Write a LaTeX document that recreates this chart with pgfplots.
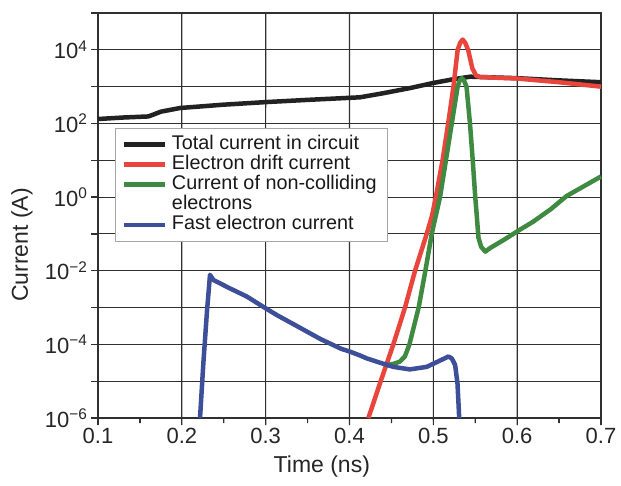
\documentclass[border=0pt]{standalone}
\usepackage{fontspec}
\setmainfont{Liberation Sans}
\usepackage{pgfplots}
\pgfplotsset{compat=1.18}
\definecolor{cblack}{HTML}{222222}
\definecolor{cred}{HTML}{E8453C}
\definecolor{cgreen}{HTML}{3E8A40}
\definecolor{cblue}{HTML}{3D4F98}
\definecolor{cgrid}{HTML}{303030}
\newcommand\tl[1]{10\textsuperscript{#1}}
\begin{document}
\begin{tikzpicture}
\path[use as bounding box] (-98pt,-67pt) rectangle (523pt,418pt);
\begin{axis}[
  at={(0pt,0pt)}, anchor=south west,
  scale only axis, width=503pt, height=405pt,
  clip=false,
  xmin=0.1, xmax=0.7, ymode=log, ymin=1e-6, ymax=1e5,
  xtick={0.1,0.2,0.3,0.4,0.5,0.6,0.7},
  xticklabels={0.1,0.2,0.3,0.4,0.5,0.6,0.7},
  minor x tick num=1,
  ytick={1e-6,1e-5,1e-4,1e-3,1e-2,1e-1,1,10,100,1000,1e4,1e5},
  yticklabels={\tl{−6},{},\tl{−4},{},\tl{−2},{},\tl{0},{},\tl{2},{},\tl{4},{}},
  yminorticks=false,
  tick align=outside, xtick pos=bottom, ytick pos=left,
  major tick length=7pt, minor tick length=5pt,
  grid=major,
  grid style={draw=cgrid, line width=1.1pt},
  axis line style={line width=1.2pt, draw=cgrid},
  xtick style={line width=1.2pt, draw=cgrid},
  ytick style={line width=1.2pt, draw=cgrid},
  ticklabel style={font=\fontsize{22}{22}\selectfont, text=black!85},
  xlabel={Time (ns)}, ylabel={Current (A)},
  label style={font=\fontsize{23}{23}\selectfont, text=black!85},
  xlabel style={at={(axis description cs:0.445,-0.121)}, anchor=center},
  ylabel style={at={(axis description cs:-0.151,0.427)}, anchor=center},
  legend style={at={(axis description cs:0.034,0.716)}, anchor=north west,
    draw=black!35, line width=0.8pt, fill=white,
    font=\fontsize{19.8}{20}\selectfont, text=black!90,
    inner xsep=6pt, inner ysep=6pt, row sep=0pt,
    nodes={inner xsep=5pt, inner ysep=0.8pt, text height=14pt, text depth=4.5pt}},
  legend cell align=left,
  legend image code/.code={\draw[#1] (0pt,0pt) -- (41pt,0pt);},
  every axis plot/.append style={line width=4.5pt, line join=round, line cap=butt},
]
% vertical grid lines and x ticks as thin series
\addplot[cgrid, line width=1.1pt, forget plot] coordinates {(0.2,1e-6) (0.20005,1e5)};
\addplot[cgrid, line width=1.1pt, forget plot] coordinates {(0.3,1e-6) (0.30005,1e5)};
\addplot[cgrid, line width=1.1pt, forget plot] coordinates {(0.4,1e-6) (0.40005,1e5)};
\addplot[cgrid, line width=1.1pt, forget plot] coordinates {(0.5,1e-6) (0.50005,1e5)};
\addplot[cgrid, line width=1.1pt, forget plot] coordinates {(0.6,1e-6) (0.60005,1e5)};
\addplot[cgrid, line width=1.2pt, forget plot] coordinates {(0.1,1e-6) (0.10005,6.45e-7)};
\addplot[cgrid, line width=1.2pt, forget plot] coordinates {(0.2,1e-6) (0.20005,6.45e-7)};
\addplot[cgrid, line width=1.2pt, forget plot] coordinates {(0.3,1e-6) (0.30005,6.45e-7)};
\addplot[cgrid, line width=1.2pt, forget plot] coordinates {(0.4,1e-6) (0.40005,6.45e-7)};
\addplot[cgrid, line width=1.2pt, forget plot] coordinates {(0.5,1e-6) (0.50005,6.45e-7)};
\addplot[cgrid, line width=1.2pt, forget plot] coordinates {(0.6,1e-6) (0.60005,6.45e-7)};
\addplot[cgrid, line width=1.2pt, forget plot] coordinates {(0.7,1e-6) (0.69995,6.45e-7)};
\addplot[cgrid, line width=1.2pt, forget plot] coordinates {(0.15,1e-6) (0.15005,7.31e-7)};
\addplot[cgrid, line width=1.2pt, forget plot] coordinates {(0.25,1e-6) (0.25005,7.31e-7)};
\addplot[cgrid, line width=1.2pt, forget plot] coordinates {(0.35,1e-6) (0.35005,7.31e-7)};
\addplot[cgrid, line width=1.2pt, forget plot] coordinates {(0.45,1e-6) (0.45005,7.31e-7)};
\addplot[cgrid, line width=1.2pt, forget plot] coordinates {(0.55,1e-6) (0.55005,7.31e-7)};
\addplot[cgrid, line width=1.2pt, forget plot] coordinates {(0.65,1e-6) (0.65005,7.31e-7)};
\addplot[cblack] coordinates {
(0.100,132) (0.130,145) (0.160,155) (0.166,174) (0.175,209) (0.198,263)
(0.250,324) (0.300,380) (0.350,437) (0.4125,513) (0.440,661) (0.472,912)
(0.500,1259) (0.5235,1585) (0.544,1862) (0.600,1698) (0.650,1479) (0.700,1318)};
\addplot[cred] coordinates {
(0.4225,1.0e-6) (0.4372,1e-5) (0.4523,1e-4) (0.4662,1e-3)
(0.4782,1e-2) (0.4921,0.1) (0.4985,0.316) (0.503,1) (0.511,10) (0.5177,100)
(0.524,1000) (0.529,1e4) (0.532,1.55e4) (0.535,1.9e4) (0.538,1.55e4)
(0.5415,1e4) (0.5465,3162) (0.551,1995) (0.556,1820) (0.600,1660)
(0.650,1318) (0.700,1000)};
\addplot[cgreen] coordinates {
(0.445,2.75e-5) (0.4523,2.95e-5) (0.460,3.39e-5) (0.466,4.68e-5) (0.4715,1e-4)
(0.4825,1e-3) (0.4905,1e-2) (0.4981,0.1) (0.503,0.316) (0.508,1) (0.515,10)
(0.522,100) (0.529,1000) (0.5315,1479) (0.534,1698) (0.5365,1479)
(0.5396,1000) (0.5437,100) (0.547,10) (0.550,1) (0.5518,0.316)
(0.5538,0.0794) (0.557,0.0447) (0.562,0.0331) (0.568,0.0417) (0.585,0.0708)
(0.603,0.129) (0.619,0.214) (0.640,0.468) (0.659,1.07) (0.680,2.0) (0.700,3.63)};
\addlegendimage{empty legend}
\addplot[cblue] coordinates {
(0.2217,1e-6) (0.2257,3.16e-5) (0.2300,7.94e-4) (0.2336,7.76e-3)
(0.2376,5.62e-3) (0.2574,3.31e-3) (0.2774,2.0e-3) (0.297,1.05e-3)
(0.313,6.31e-4) (0.333,3.55e-4) (0.365,1.41e-4) (0.390,7.59e-5)
(0.401,6.3e-5) (0.4125,5.0e-5) (0.4205,4.17e-5) (0.4324,3.39e-5)
(0.4523,2.45e-5) (0.472,2.09e-5) (0.4921,2.45e-5) (0.508,3.63e-5)
(0.518,4.68e-5) (0.522,4.17e-5) (0.526,2.75e-5) (0.5288,8.71e-6)
(0.5304,1.66e-6) (0.5308,1e-6)};
\legend{Total current in circuit, Electron drift current, Current of non-colliding, electrons, Fast electron current}
\end{axis}
\end{tikzpicture}
\end{document}
